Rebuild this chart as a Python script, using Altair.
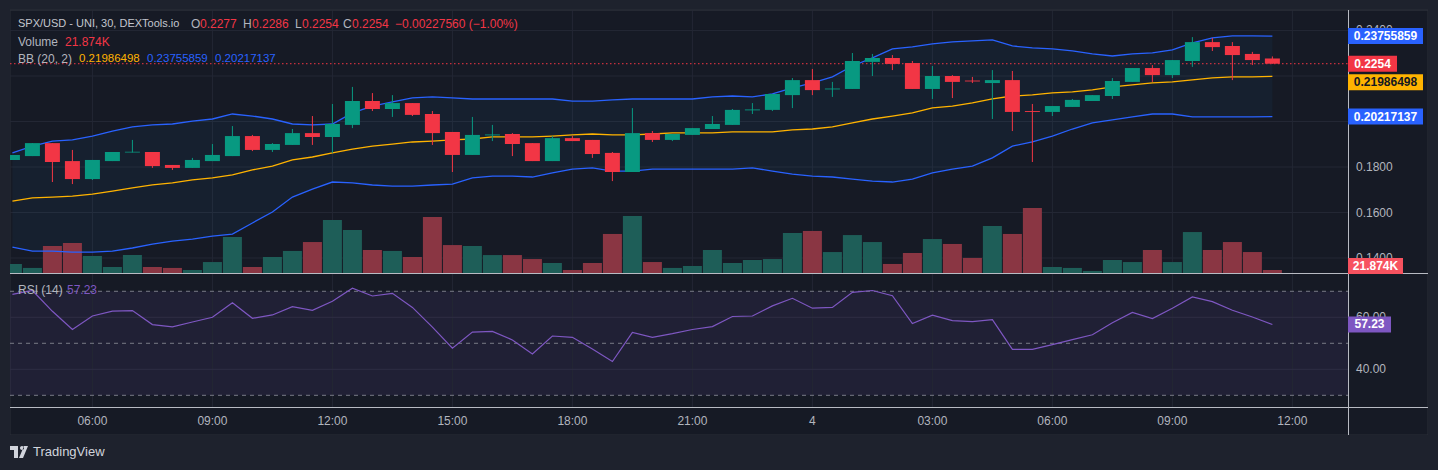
import altair as alt
import pandas as pd
import numpy as np

# ---------------- data ----------------
# 30-minute candles, hours counted from 00:00 of the 3rd (04:00 on the 3rd ... 11:30 on the 4th)
hours = [4 + 0.5 * i for i in range(64)]

opens = [0.1831, 0.1848, 0.1905, 0.1826, 0.1747, 0.1826, 0.1864, 0.1866, 0.1809, 0.1796,
         0.1826, 0.1848, 0.1936, 0.1875, 0.1897, 0.1949, 0.1932, 0.1985, 0.2090, 0.2055,
         0.2081, 0.2033, 0.1954, 0.1853, 0.1939, 0.1945, 0.1905, 0.1826, 0.1927, 0.1919,
         0.1862, 0.1778, 0.1949, 0.1919, 0.1941, 0.1967, 0.1985, 0.2049, 0.2051, 0.2116,
         0.2182, 0.2141, 0.2143, 0.2262, 0.2279, 0.2257, 0.2143, 0.2200, 0.2180, 0.2169,
         0.2182, 0.2046, 0.2042, 0.2064, 0.2090, 0.2112, 0.2174, 0.2235, 0.2204, 0.2266,
         0.2349, 0.2332, 0.2297, 0.2277]
highs = [0.1853, 0.1905, 0.1905, 0.1875, 0.1831, 0.1866, 0.1919, 0.1866, 0.1809, 0.1840,
         0.1901, 0.1980, 0.1941, 0.1905, 0.1967, 0.2024, 0.2077, 0.2152, 0.2125, 0.2116,
         0.2081, 0.2046, 0.1954, 0.2020, 0.1985, 0.1949, 0.1905, 0.1936, 0.1936, 0.1919,
         0.1866, 0.2059, 0.1958, 0.1945, 0.1971, 0.2024, 0.2055, 0.2081, 0.2121, 0.2191,
         0.2231, 0.2174, 0.2301, 0.2297, 0.2292, 0.2266, 0.2244, 0.2204, 0.2196, 0.2226,
         0.2222, 0.2077, 0.2068, 0.2099, 0.2116, 0.2191, 0.2235, 0.2248, 0.2270, 0.2371,
         0.2367, 0.2349, 0.2306, 0.2286]
lows = [0.1831, 0.1848, 0.1734, 0.1725, 0.1743, 0.1826, 0.1864, 0.1796, 0.1787, 0.1796,
        0.1826, 0.1848, 0.1870, 0.1866, 0.1897, 0.1897, 0.1862, 0.1971, 0.2046, 0.2020,
        0.2024, 0.1897, 0.1778, 0.1853, 0.1914, 0.1848, 0.1826, 0.1826, 0.1914, 0.1840,
        0.1738, 0.1778, 0.1910, 0.1914, 0.1941, 0.1967, 0.1985, 0.2033, 0.2046, 0.2059,
        0.2116, 0.2108, 0.2143, 0.2200, 0.2226, 0.2143, 0.2099, 0.2103, 0.2169, 0.2011,
        0.1958, 0.1822, 0.2024, 0.2064, 0.2090, 0.2099, 0.2174, 0.2174, 0.2191, 0.2240,
        0.2310, 0.2182, 0.2248, 0.2254]
closes = [0.1853, 0.1905, 0.1822, 0.1747, 0.1831, 0.1866, 0.1867, 0.1804, 0.1796, 0.1831,
          0.1853, 0.1936, 0.1875, 0.1901, 0.1949, 0.1932, 0.1989, 0.2090, 0.2055, 0.2081,
          0.2029, 0.1949, 0.1853, 0.1941, 0.1943, 0.1901, 0.1826, 0.1927, 0.1914, 0.1857,
          0.1778, 0.1949, 0.1919, 0.1945, 0.1971, 0.1989, 0.2051, 0.2053, 0.2121, 0.2182,
          0.2138, 0.2145, 0.2266, 0.2279, 0.2253, 0.2143, 0.2200, 0.2174, 0.2176, 0.2182,
          0.2042, 0.2042, 0.2068, 0.2095, 0.2116, 0.2178, 0.2235, 0.2204, 0.2270, 0.2349,
          0.2327, 0.2292, 0.2270, 0.2254]

volumes_k = [66, 37, 197, 219, 124, 44, 131, 44, 37, 22, 80, 263, 44, 117, 161, 226,
             387, 314, 168, 161, 117, 409, 204, 197, 131, 131, 102, 73, 22, 73, 285, 416,
             80, 37, 51, 168, 73, 95, 102, 292, 307, 153, 277, 226, 66, 146, 248, 212,
             110, 343, 285, 475, 44, 37, 15, 95, 80, 168, 80, 299, 168, 226, 153, 21.874]

bb_upper = [0.1862, 0.1892, 0.1914, 0.1919, 0.1936, 0.1958, 0.1976, 0.1985, 0.1989, 0.2002,
            0.2011, 0.2033, 0.2024, 0.2011, 0.1989, 0.1985, 0.1989, 0.2038, 0.2068, 0.2086,
            0.2104, 0.2108, 0.2104, 0.2099, 0.2099, 0.2099, 0.2099, 0.2099, 0.2090, 0.2090,
            0.2095, 0.2099, 0.2099, 0.2099, 0.2099, 0.2108, 0.2112, 0.2108, 0.2121, 0.2148,
            0.2170, 0.2196, 0.2244, 0.2280, 0.2319, 0.2328, 0.2341, 0.2350, 0.2354, 0.2359,
            0.2332, 0.2324, 0.2319, 0.2310, 0.2297, 0.2288, 0.2297, 0.2302, 0.2315, 0.2346,
            0.2368, 0.2376, 0.2376, 0.23755859]
bb_mid = [0.1650, 0.1664, 0.1668, 0.1672, 0.1681, 0.1694, 0.1708, 0.1721, 0.1730, 0.1743,
          0.1752, 0.1765, 0.1787, 0.1804, 0.1831, 0.1844, 0.1862, 0.1879, 0.1892, 0.1901,
          0.1910, 0.1914, 0.1919, 0.1923, 0.1932, 0.1932, 0.1932, 0.1936, 0.1941, 0.1945,
          0.1941, 0.1941, 0.1945, 0.1950, 0.1950, 0.1950, 0.1954, 0.1954, 0.1954, 0.1963,
          0.1967, 0.1976, 0.1994, 0.2011, 0.2024, 0.2038, 0.2060, 0.2068, 0.2082, 0.2099,
          0.2112, 0.2117, 0.2126, 0.2130, 0.2139, 0.2152, 0.2161, 0.2170, 0.2174, 0.2183,
          0.2192, 0.2196, 0.2196, 0.21986498]
bb_lower = [0.1448, 0.1430, 0.1430, 0.1426, 0.1426, 0.1430, 0.1444, 0.1461, 0.1474, 0.1483,
            0.1496, 0.1505, 0.1554, 0.1602, 0.1668, 0.1703, 0.1734, 0.1730, 0.1721, 0.1716,
            0.1716, 0.1721, 0.1725, 0.1752, 0.1760, 0.1760, 0.1756, 0.1774, 0.1791, 0.1796,
            0.1782, 0.1782, 0.1791, 0.1791, 0.1791, 0.1791, 0.1791, 0.1796, 0.1782, 0.1769,
            0.1760, 0.1756, 0.1747, 0.1738, 0.1734, 0.1747, 0.1774, 0.1791, 0.1804, 0.1840,
            0.1892, 0.1910, 0.1936, 0.1967, 0.1994, 0.2007, 0.2020, 0.2033, 0.2033, 0.2020,
            0.2020, 0.2020, 0.2020, 0.20217137]

rsi = [68.8, 70.3, 62.3, 55.3, 60.5, 62.4, 62.6, 57.2, 56.3, 58.2,
       60.0, 65.6, 59.6, 60.9, 64.1, 62.7, 66.2, 71.2, 68.2, 69.2,
       63.8, 56.2, 48.1, 54.3, 54.6, 51.3, 45.9, 52.8, 52.3, 47.8,
       43.0, 54.2, 52.3, 53.7, 55.3, 56.4, 60.3, 60.5, 64.4, 67.3,
       63.5, 63.8, 69.6, 70.3, 68.3, 57.6, 60.8, 58.7, 58.3, 59.1,
       47.7, 47.7, 49.5, 51.4, 53.3, 57.9, 61.9, 59.5, 63.5, 67.8,
       66.0, 62.7, 60.1, 57.23]

tick_hours = [6, 9, 12, 15, 18, 21, 24, 27, 30, 33, 36]
tick_labels = ["06:00", "09:00", "12:00", "15:00", "18:00", "21:00", "4",
               "03:00", "06:00", "09:00", "12:00"]
price_grid = [0.14, 0.16, 0.18, 0.20, 0.22, 0.24]
price_labels = [0.14, 0.16, 0.18, 0.24]      # 0.2200 / 0.2000 are hidden behind the value tags
rsi_ticks = [40, 60]
rsi_levels = [30, 50, 70]

# ---------------- styling ----------------
W, H = 1438, 470
BG_OUT = "#1e222d"
BG = "#161a25"
GRID = "#232734"
TXT = "#b2b5be"
GREEN, RED = "#089981", "#f23645"
VGREEN, VRED = "#1e5e58", "#8a3643"
BLUE, ORANGE, PURPLE = "#2962ff", "#ffb300", "#7e57c2"
SEP = "#b8bbc3"
FONT = "Liberation Sans"

df = pd.DataFrame({"h": hours, "open": opens, "high": highs, "low": lows, "close": closes,
                   "vol": volumes_k, "bbu": bb_upper, "bbm": bb_mid, "bbl": bb_lower, "rsi": rsi})
df["dir"] = np.where(df["close"] >= df["open"], "up", "down")

X_SCALE = alt.Scale(domain=[4.0645, 37.2655], range=[10, 1348], nice=False, zero=False)


def xh(field="h"):
    return alt.X(f"{field}:Q", scale=X_SCALE, axis=None)


def py(field):
    return alt.Y(f"{field}:Q", scale=alt.Scale(domain=[0.13341, 0.24901], range=[273, 10],
                                               nice=False, zero=False), axis=None)


def vy(field):
    return alt.Y(f"{field}:Q", scale=alt.Scale(domain=[0, 1920], range=[273, 10],
                                               nice=False, zero=False), axis=None)


def ry(field):
    return alt.Y(f"{field}:Q", scale=alt.Scale(domain=[25.5, 76.65], range=[407, 274],
                                               nice=False, zero=False), axis=None)


one = pd.DataFrame({"k": [0]})


def prect(x1, x2, y1, y2, color, **kw):
    return alt.Chart(one).mark_rect(color=color, **kw).encode(
        x=alt.value(x1), x2=alt.value(x2), y=alt.value(y1), y2=alt.value(y2))


def prule(x1, x2, y1, y2, color, width=1, **kw):
    return alt.Chart(one).mark_rule(color=color, strokeWidth=width, **kw).encode(
        x=alt.value(x1), x2=alt.value(x2), y=alt.value(y1), y2=alt.value(y2))


def ptext(s, x, y, color, size=12, weight="normal", align="left"):
    return alt.Chart(one).mark_text(text=s, color=color, fontSize=size, font=FONT,
                                    fontWeight=weight, align=align, baseline="middle").encode(
        x=alt.value(x), y=alt.value(y))


def box(value, ych, width, color, text, tcolor="#ffffff", yoff=0):
    d = pd.DataFrame({"v": [value], "t": [text]})
    shape = f"M0,-8H{width}V8H0Z"
    b = alt.Chart(d).mark_point(shape=shape, size=4, filled=True, opacity=1, color=color,
                                strokeWidth=0, yOffset=yoff).encode(x=alt.value(1348), y=ych("v"))
    t = alt.Chart(d).mark_text(color=tcolor, fontSize=12, font=FONT, fontWeight="bold",
                               align="center", baseline="middle", yOffset=yoff).encode(
        x=alt.value(1348 + width / 2), y=ych("v"), text="t:N")
    return [b, t]


layers = []
# pane background
layers.append(prect(10, 1428, 10, 435, BG, stroke="#2a2e39", strokeWidth=1))

# RSI band
band = pd.DataFrame({"lo": [rsi_levels[0]], "hi": [rsi_levels[-1]]})
layers.append(alt.Chart(band).mark_rect(color=PURPLE, opacity=0.1).encode(
    x=alt.value(10), x2=alt.value(1348), y=ry("hi"), y2=alt.Y2("lo")))

# grids
tdf = pd.DataFrame({"h": tick_hours, "lab": tick_labels})
layers.append(alt.Chart(tdf).mark_rule(color=GRID).encode(x=xh(), y=alt.value(10), y2=alt.value(407)))
gdf = pd.DataFrame({"p": price_grid})
layers.append(alt.Chart(gdf).mark_rule(color=GRID).encode(y=py("p"), x=alt.value(10), x2=alt.value(1348)))
rdf = pd.DataFrame({"r": rsi_ticks})
layers.append(alt.Chart(rdf).mark_rule(color="#2e2d44").encode(y=ry("r"), x=alt.value(10), x2=alt.value(1348)))

# Bollinger fill
layers.append(alt.Chart(df).mark_area(color="#2196f3", opacity=0.05).encode(x=xh(), y=py("bbu"), y2=alt.Y2("bbl")))

# volume
layers.append(alt.Chart(df).mark_bar(size=19).encode(
    x=xh(), y=vy("vol"),
    color=alt.Color("dir:N", scale=alt.Scale(domain=["up", "down"], range=[VGREEN, VRED]), legend=None)))

# Bollinger lines
layers.append(alt.Chart(df).mark_line(color=BLUE, strokeWidth=1.3).encode(x=xh(), y=py("bbu")))
layers.append(alt.Chart(df).mark_line(color=BLUE, strokeWidth=1.3).encode(x=xh(), y=py("bbl")))
layers.append(alt.Chart(df).mark_line(color=ORANGE, strokeWidth=1.3).encode(x=xh(), y=py("bbm")))

# last price dotted line
last = pd.DataFrame({"p": [closes[-1]]})
layers.append(alt.Chart(last).mark_rule(color=RED, strokeDash=[1.5, 2.5]).encode(
    y=py("p"), x=alt.value(10), x2=alt.value(1348)))

# candles
cscale = alt.Scale(domain=["up", "down"], range=[GREEN, RED])
layers.append(alt.Chart(df).mark_rule(strokeWidth=1).encode(
    x=xh(), y=py("high"), y2=alt.Y2("low"), color=alt.Color("dir:N", scale=cscale, legend=None)))
layers.append(alt.Chart(df).mark_bar(size=15).encode(
    x=xh(), y=py("open"), y2=alt.Y2("close"), color=alt.Color("dir:N", scale=cscale, legend=None)))

# RSI
ldf = pd.DataFrame({"r": rsi_levels})
layers.append(alt.Chart(ldf).mark_rule(color="#787b86", strokeDash=[4, 4]).encode(
    y=ry("r"), x=alt.value(10), x2=alt.value(1348)))
layers.append(alt.Chart(df).mark_line(color=PURPLE, strokeWidth=1.2).encode(x=xh(), y=ry("rsi")))

# clip margins with outer background
layers += [prect(0, 10, 0, H, BG_OUT), prect(0, W, 0, 10, BG_OUT),
           prect(1428, W, 0, H, BG_OUT), prect(0, W, 435, H, BG_OUT)]
layers.append(prule(10, 1428, 10, 10, "#2a2e39"))

# separators
layers.append(prule(10, 1428, 273.5, 273.5, SEP))
layers.append(prule(10, 1428, 407.5, 407.5, SEP))
layers.append(prule(1348.5, 1348.5, 10, 435, SEP))

# axis labels
pdf = pd.DataFrame({"p": price_labels})
layers.append(alt.Chart(pdf).mark_text(color=TXT, fontSize=12, font=FONT, align="left", baseline="middle").encode(
    y=py("p"), x=alt.value(1356), text=alt.Text("p:Q", format=".4f")))
layers.append(alt.Chart(rdf).mark_text(color=TXT, fontSize=12, font=FONT, align="left", baseline="middle").encode(
    y=ry("r"), x=alt.value(1356), text=alt.Text("r:Q", format=".2f")))
layers.append(alt.Chart(tdf).mark_text(color=TXT, fontSize=12, font=FONT, baseline="middle").encode(
    x=xh(), y=alt.value(421), text="lab:N"))

# price scale tags
layers += box(bb_upper[-1], py, 75, BLUE, f"{bb_upper[-1]:.8f}")
layers += box(closes[-1], py, 49, RED, f"{closes[-1]:.4f}")
layers += box(bb_mid[-1], py, 75, ORANGE, f"{bb_mid[-1]:.8f}", tcolor="#131722", yoff=6)
layers += box(bb_lower[-1], py, 75, BLUE, f"{bb_lower[-1]:.8f}")
layers += box(volumes_k[-1], vy, 55, "#f7525f", f"{volumes_k[-1]:.3f}K", yoff=-4)
layers += box(rsi[-1], ry, 43, PURPLE, f"{rsi[-1]:.2f}")

# legends
LRED = "#f23645"
layers += [
    ptext("SPX/USD - UNI, 30, DEXTools.io", 18, 24, "#c3c6ce", size=11),
    ptext("O", 191, 24, TXT), ptext(f"{opens[-1]:.4f}", 200, 24, LRED),
    ptext("H", 243, 24, TXT), ptext(f"{highs[-1]:.4f}", 252, 24, LRED),
    ptext("L", 295, 24, TXT), ptext(f"{lows[-1]:.4f}", 302, 24, LRED),
    ptext("C", 343, 24, TXT), ptext(f"{closes[-1]:.4f}", 352, 24, LRED),
    ptext("\u22120.00227560 (\u22121.00%)", 395, 24, LRED),
    ptext("Volume", 18, 42, TXT), ptext(f"{volumes_k[-1]:.3f}K", 65, 42, LRED),
    ptext("BB (20, 2)", 18, 59, TXT), ptext(f"{bb_mid[-1]:.8f}", 79, 59, ORANGE, size=11.5),
    ptext(f"{bb_upper[-1]:.8f}", 147, 59, BLUE, size=11.5),
    ptext(f"{bb_lower[-1]:.8f}", 215, 59, BLUE, size=11.5),
    ptext("RSI (14)", 18, 290, TXT), ptext(f"{rsi[-1]:.2f}", 67, 290, PURPLE),
]

# TradingView logo
logo_path = ("M-9,-6H-1V6H-5V-2H-9Z "
             "M1,-4a2,2 0 1,0 4,0a2,2 0 1,0 -4,0Z "
             "M5,-6H9L4,6H0Z")
layers.append(alt.Chart(one).mark_point(shape=logo_path, size=4, filled=True, opacity=1,
                                        color="#d1d4dc", strokeWidth=0).encode(
    x=alt.value(19), y=alt.value(452)))
layers.append(ptext("TradingView", 33, 452, "#d1d4dc", size=13))

chart = alt.layer(*layers).resolve_scale(y="independent", color="independent").properties(
    width=W, height=H, padding=0, autosize=alt.AutoSizeParams(type="none"), background=BG_OUT
).configure_view(stroke=None)

chart.save("out.html", embed_options={"renderer": "svg", "actions": False})
